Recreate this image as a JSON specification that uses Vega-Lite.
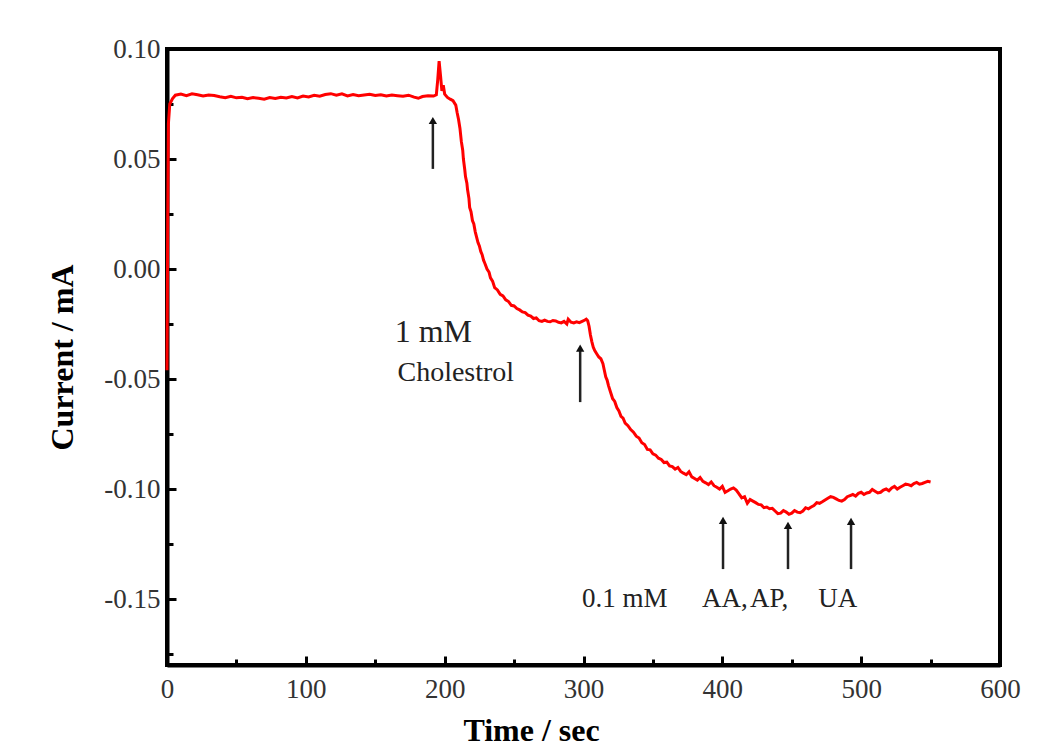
{
  "$schema": "https://vega.github.io/schema/vega-lite/v6.json",
  "autosize": {"type": "none"},
  "width": 833,
  "height": 616,
  "padding": {"left": 167, "top": 49, "right": 50, "bottom": 90},
  "background": "white",
  "config": {
    "view": {"stroke": "#000", "strokeWidth": 4},
    "axis": {
      "grid": false,
      "domainColor": "#000",
      "domainWidth": 4,
      "tickColor": "#000",
      "labelFont": "Liberation Serif",
      "labelColor": "#333",
      "titleFont": "Liberation Serif",
      "titleColor": "#000"
    }
  },
  "datasets": {
    "trace": [
      {"t":0,"i":-0.046},{"t":0.5,"i":0.02},{"t":1,"i":0.066},{"t":2,"i":0.075},{"t":4,"i":0.0775},{"t":6,"i":0.079},{"t":10,"i":0.0795},{"t":14,"i":0.0788},{"t":18,"i":0.0796},{"t":22,"i":0.0792},{"t":26,"i":0.0786},{"t":30,"i":0.0791},{"t":34,"i":0.0789},{"t":38,"i":0.0783},{"t":42,"i":0.0779},{"t":46,"i":0.0785},{"t":50,"i":0.0778},{"t":54,"i":0.0781},{"t":58,"i":0.0774},{"t":62,"i":0.0779},{"t":66,"i":0.0776},{"t":70,"i":0.0772},{"t":74,"i":0.0779},{"t":78,"i":0.0775},{"t":82,"i":0.0781},{"t":86,"i":0.0777},{"t":90,"i":0.0784},{"t":94,"i":0.0778},{"t":98,"i":0.0786},{"t":102,"i":0.0782},{"t":106,"i":0.079},{"t":110,"i":0.0785},{"t":114,"i":0.0793},{"t":118,"i":0.0797},{"t":122,"i":0.079},{"t":126,"i":0.0796},{"t":130,"i":0.0787},{"t":134,"i":0.0793},{"t":138,"i":0.0788},{"t":142,"i":0.0791},{"t":146,"i":0.0794},{"t":150,"i":0.0789},{"t":154,"i":0.0792},{"t":158,"i":0.0786},{"t":162,"i":0.0791},{"t":166,"i":0.0788},{"t":170,"i":0.0785},{"t":174,"i":0.079},{"t":178,"i":0.0781},{"t":181,"i":0.0776},{"t":184,"i":0.0784},{"t":188,"i":0.0787},{"t":192,"i":0.0786},{"t":194,"i":0.0792},{"t":195,"i":0.086},{"t":196,"i":0.0945},{"t":197,"i":0.088},{"t":198,"i":0.081},{"t":199,"i":0.0835},{"t":200,"i":0.0795},{"t":202,"i":0.078},{"t":204,"i":0.0772},{"t":206,"i":0.0765},{"t":208,"i":0.0745},{"t":209,"i":0.071},{"t":210,"i":0.068},{"t":211,"i":0.064},{"t":212,"i":0.058},{"t":213,"i":0.054},{"t":213.5,"i":0.05},{"t":214.5,"i":0.045},{"t":215,"i":0.042},{"t":216,"i":0.039},{"t":216.5,"i":0.036},{"t":217.5,"i":0.032},{"t":218,"i":0.028},{"t":219,"i":0.026},{"t":220,"i":0.022},{"t":221,"i":0.0205},{"t":222,"i":0.017},{"t":223,"i":0.0145},{"t":224,"i":0.012},{"t":225,"i":0.0105},{"t":226,"i":0.008},{"t":227,"i":0.0065},{"t":228,"i":0.004},{"t":229,"i":0.0025},{"t":230.5,"i":0.0},{"t":232,"i":-0.0015},{"t":233,"i":-0.004},{"t":234.5,"i":-0.0055},{"t":236,"i":-0.0085},{"t":238,"i":-0.0095},{"t":240,"i":-0.0115},{"t":242,"i":-0.0122},{"t":244,"i":-0.014},{"t":246,"i":-0.0148},{"t":248,"i":-0.0165},{"t":250,"i":-0.0168},{"t":252,"i":-0.018},{"t":254,"i":-0.0186},{"t":256,"i":-0.0195},{"t":258,"i":-0.0198},{"t":260,"i":-0.021},{"t":262,"i":-0.0214},{"t":264,"i":-0.0225},{"t":266,"i":-0.0222},{"t":268,"i":-0.0235},{"t":270,"i":-0.0238},{"t":272,"i":-0.0232},{"t":274,"i":-0.0238},{"t":276,"i":-0.024},{"t":278,"i":-0.0234},{"t":280,"i":-0.0236},{"t":282,"i":-0.0242},{"t":284,"i":-0.0245},{"t":286,"i":-0.0238},{"t":288,"i":-0.025},{"t":289,"i":-0.0228},{"t":291,"i":-0.0242},{"t":293,"i":-0.0245},{"t":295,"i":-0.024},{"t":297,"i":-0.0244},{"t":299,"i":-0.0238},{"t":301,"i":-0.0232},{"t":302,"i":-0.0228},{"t":303,"i":-0.0235},{"t":304,"i":-0.026},{"t":305,"i":-0.03},{"t":306,"i":-0.033},{"t":307,"i":-0.0355},{"t":308,"i":-0.037},{"t":309.5,"i":-0.0385},{"t":311,"i":-0.04},{"t":312.5,"i":-0.0408},{"t":314,"i":-0.043},{"t":315,"i":-0.046},{"t":316,"i":-0.049},{"t":317,"i":-0.0505},{"t":318,"i":-0.053},{"t":319.5,"i":-0.056},{"t":321,"i":-0.059},{"t":322.5,"i":-0.0602},{"t":324,"i":-0.063},{"t":325.5,"i":-0.0645},{"t":327,"i":-0.067},{"t":328.5,"i":-0.0678},{"t":330,"i":-0.07},{"t":332,"i":-0.0712},{"t":334,"i":-0.073},{"t":336,"i":-0.0742},{"t":338,"i":-0.076},{"t":340,"i":-0.0768},{"t":342,"i":-0.079},{"t":344,"i":-0.0798},{"t":346,"i":-0.082},{"t":348,"i":-0.0822},{"t":350,"i":-0.084},{"t":352,"i":-0.0846},{"t":354,"i":-0.086},{"t":356,"i":-0.0866},{"t":358,"i":-0.088},{"t":360,"i":-0.0878},{"t":362,"i":-0.0895},{"t":364,"i":-0.0898},{"t":366,"i":-0.091},{"t":368,"i":-0.0902},{"t":370,"i":-0.092},{"t":372,"i":-0.0928},{"t":374,"i":-0.0935},{"t":376,"i":-0.0922},{"t":378,"i":-0.0945},{"t":380,"i":-0.0952},{"t":382,"i":-0.096},{"t":384,"i":-0.0948},{"t":386,"i":-0.0965},{"t":388,"i":-0.0972},{"t":390,"i":-0.098},{"t":392,"i":-0.0968},{"t":394,"i":-0.0985},{"t":396,"i":-0.0992},{"t":398,"i":-0.1},{"t":400,"i":-0.0988},{"t":402,"i":-0.1015},{"t":404,"i":-0.1008},{"t":406,"i":-0.1},{"t":408,"i":-0.0995},{"t":410,"i":-0.1005},{"t":412,"i":-0.1022},{"t":414,"i":-0.104},{"t":416,"i":-0.1035},{"t":418,"i":-0.1065},{"t":420,"i":-0.1048},{"t":422,"i":-0.1055},{"t":424,"i":-0.1062},{"t":426,"i":-0.107},{"t":428,"i":-0.1072},{"t":430,"i":-0.1085},{"t":432,"i":-0.1082},{"t":434,"i":-0.109},{"t":436,"i":-0.1088},{"t":438,"i":-0.11},{"t":440,"i":-0.1112},{"t":442,"i":-0.111},{"t":444,"i":-0.1098},{"t":446,"i":-0.1105},{"t":448,"i":-0.1115},{"t":450,"i":-0.111},{"t":452,"i":-0.1098},{"t":454,"i":-0.1105},{"t":456,"i":-0.1108},{"t":458,"i":-0.11},{"t":460,"i":-0.1085},{"t":462,"i":-0.109},{"t":464,"i":-0.1082},{"t":466,"i":-0.1075},{"t":468,"i":-0.1062},{"t":470,"i":-0.1065},{"t":472,"i":-0.1058},{"t":474,"i":-0.105},{"t":476,"i":-0.1042},{"t":478,"i":-0.1035},{"t":480,"i":-0.1038},{"t":482,"i":-0.1045},{"t":484,"i":-0.1052},{"t":486,"i":-0.1055},{"t":488,"i":-0.1048},{"t":490,"i":-0.1035},{"t":492,"i":-0.103},{"t":494,"i":-0.1025},{"t":496,"i":-0.1032},{"t":498,"i":-0.102},{"t":500,"i":-0.1015},{"t":502,"i":-0.1025},{"t":504,"i":-0.1018},{"t":506,"i":-0.1015},{"t":508,"i":-0.1002},{"t":510,"i":-0.101},{"t":512,"i":-0.1018},{"t":514,"i":-0.1015},{"t":516,"i":-0.1005},{"t":518,"i":-0.1},{"t":520,"i":-0.1008},{"t":522,"i":-0.0995},{"t":524,"i":-0.0988},{"t":526,"i":-0.1},{"t":528,"i":-0.0992},{"t":530,"i":-0.0985},{"t":532,"i":-0.0978},{"t":534,"i":-0.098},{"t":536,"i":-0.0985},{"t":538,"i":-0.0975},{"t":540,"i":-0.097},{"t":542,"i":-0.0978},{"t":544,"i":-0.0975},{"t":546,"i":-0.097},{"t":548,"i":-0.0965},{"t":550,"i":-0.0968}
    ],
    "arrows": [
      {"t":191.5,"y1":0.0455,"y2":0.0675},
      {"t":297.6,"y1":-0.0605,"y2":-0.036},
      {"t":400.5,"y1":-0.1364,"y2":-0.1143},
      {"t":447.3,"y1":-0.1364,"y2":-0.1165},
      {"t":492.7,"y1":-0.1364,"y2":-0.1147}
    ],
    "labels": [
      {"t":164,"y":-0.0332,"text":"1 mM","kind":"big"},
      {"t":166,"y":-0.0509,"text":"Cholestrol","kind":"mid"},
      {"t":299,"y":-0.1536,"text":"0.1 mM","kind":"low"},
      {"t":385.4,"y":-0.1536,"text":"AA,","kind":"low"},
      {"t":420,"y":-0.1536,"text":"AP,","kind":"low"},
      {"t":469,"y":-0.1536,"text":"UA","kind":"low"}
    ],
    "minor": [{"t":50,"i":0.025}]
  },
  "layer": [
    {
      "data": {"name": "trace"},
      "mark": {"type": "line", "color": "#ff0000", "strokeWidth": 3, "interpolate": "linear"},
      "encoding": {
        "x": {"field": "t", "type": "quantitative", "scale": {"domain": [0, 600], "nice": false, "zero": false},
          "axis": {"title": "Time / sec", "values": [0,100,200,300,400,500,600], "tickSize": -9, "tickWidth": 3, "labelPadding": 20, "labelFontSize": 27, "titleFontSize": 32, "titleFontWeight": "bold", "titleX": 364, "titleY": 75, "titleBaseline": "alphabetic", "labelFlush": false}},
        "y": {"field": "i", "type": "quantitative", "scale": {"domain": [-0.18, 0.1], "nice": false, "zero": false},
          "axis": {"title": "Current / mA", "values": [0.1,0.05,0,-0.05,-0.1,-0.15], "tickSize": -9, "tickWidth": 3, "labelPadding": 16, "labelFontSize": 27, "titleFontSize": 32, "titleFontWeight": "bold", "titleX": -95, "titleY": 308, "titleBaseline": "alphabetic", "titleAlign": "center", "labelExpr": "replace(format(datum.value, '.2f'), '\u2212', '-')"}}
      }
    },
    {
      "data": {"name": "minor"},
      "mark": {"type": "point", "opacity": 0},
      "encoding": {
        "x": {"field": "t", "type": "quantitative", "scale": {"domain": [0, 600], "nice": false, "zero": false},
          "axis": {"orient": "bottom", "title": null, "labels": false, "domain": false, "values": [50,150,250,350,450,550], "tickSize": -6, "tickWidth": 3}},
        "y": {"field": "i", "type": "quantitative", "scale": {"domain": [-0.18, 0.1], "nice": false, "zero": false},
          "axis": {"orient": "left", "title": null, "labels": false, "domain": false, "values": [0.075,0.025,-0.025,-0.075,-0.125,-0.175], "tickSize": -6, "tickWidth": 3}}
      }
    },
    {
      "data": {"name": "arrows"},
      "mark": {"type": "rule", "color": "#222", "strokeWidth": 2.5},
      "encoding": {
        "x": {"field": "t", "type": "quantitative", "axis": null},
        "y": {"field": "y1", "type": "quantitative", "axis": null},
        "y2": {"field": "y2"}
      }
    },
    {
      "data": {"name": "arrows"},
      "mark": {"type": "point", "shape": "triangle-up", "filled": true, "color": "#111", "size": 70, "opacity": 1},
      "encoding": {
        "x": {"field": "t", "type": "quantitative", "axis": null},
        "y": {"field": "y2", "type": "quantitative", "axis": null}
      }
    },
    {
      "data": {"name": "labels"},
      "transform": [{"filter": "datum.kind === 'big'"}],
      "mark": {"type": "text", "font": "Liberation Serif", "fontSize": 32, "align": "left", "baseline": "alphabetic", "color": "#222"},
      "encoding": {
        "x": {"field": "t", "type": "quantitative", "axis": null},
        "y": {"field": "y", "type": "quantitative", "axis": null},
        "text": {"field": "text"}
      }
    },
    {
      "data": {"name": "labels"},
      "transform": [{"filter": "datum.kind === 'mid'"}],
      "mark": {"type": "text", "font": "Liberation Serif", "fontSize": 28, "align": "left", "baseline": "alphabetic", "color": "#222"},
      "encoding": {
        "x": {"field": "t", "type": "quantitative", "axis": null},
        "y": {"field": "y", "type": "quantitative", "axis": null},
        "text": {"field": "text"}
      }
    },
    {
      "data": {"name": "labels"},
      "transform": [{"filter": "datum.kind === 'low'"}],
      "mark": {"type": "text", "font": "Liberation Serif", "fontSize": 27, "align": "left", "baseline": "alphabetic", "color": "#222"},
      "encoding": {
        "x": {"field": "t", "type": "quantitative", "axis": null},
        "y": {"field": "y", "type": "quantitative", "axis": null},
        "text": {"field": "text"}
      }
    }
  ],
  "resolve": {"axis": {"x": "independent", "y": "independent"}}
}
